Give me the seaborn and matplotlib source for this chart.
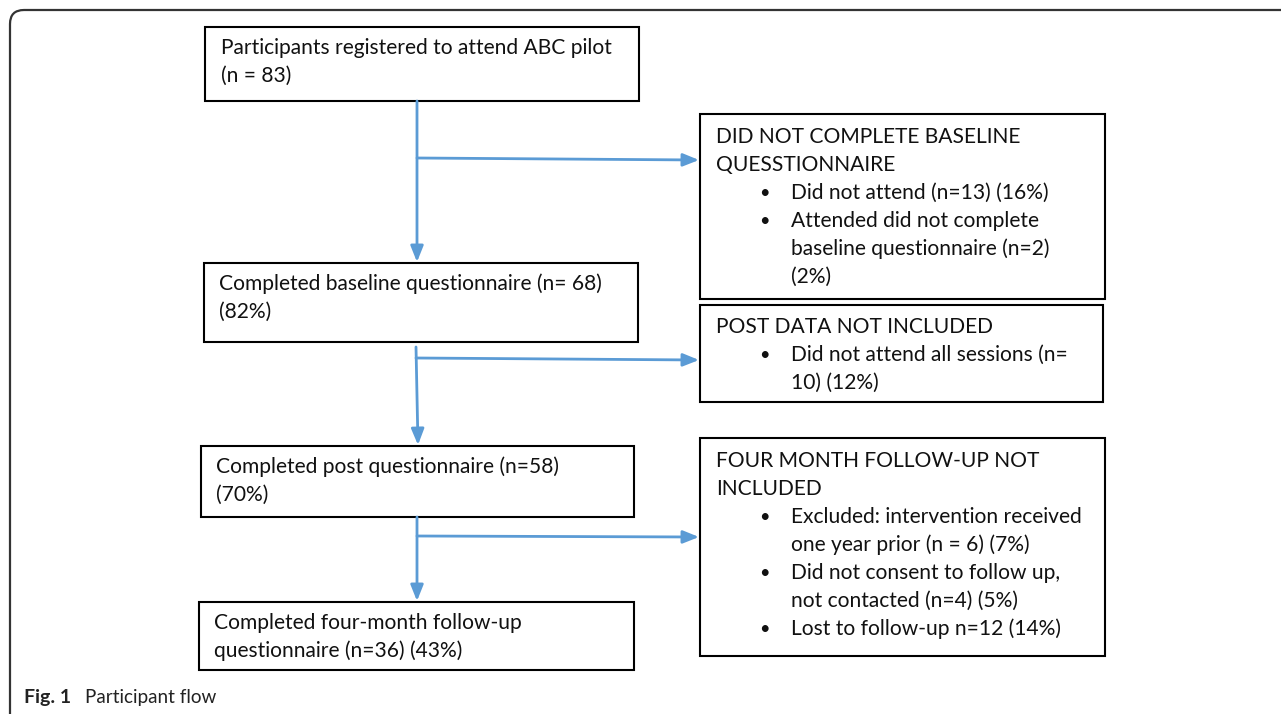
import matplotlib.pyplot as plt
import seaborn as sns
from matplotlib.patches import Rectangle
from matplotlib.path import Path
from matplotlib.patches import PathPatch

# -------------------------
# Flow content
# -------------------------
stage_titles = [
    "Participants registered to attend ABC pilot",
    "Completed baseline questionnaire (n= 68)",
    "Completed post questionnaire (n=58)",
    "Completed four-month follow-up",
]
stage_second_lines = ["(n = 83)", "(82%)", "(70%)", "questionnaire (n=36) (43%)"]

exclusion_headers = [
    ["DID NOT COMPLETE BASELINE", "QUESSTIONNAIRE"],
    ["POST DATA NOT INCLUDED"],
    ["FOUR MONTH FOLLOW-UP NOT", "INCLUDED"],
]
exclusion_bullets = [
    [["Did not attend (n=13) (16%)"],
     ["Attended did not complete", "baseline questionnaire (n=2)", "(2%)"]],
    [["Did not attend all sessions (n=", "10) (12%)"]],
    [["Excluded: intervention received", "one year prior (n = 6) (7%)"],
     ["Did not consent to follow up,", "not contacted (n=4) (5%)"],
     ["Lost to follow-up n=12 (14%)"]],
]
caption_bold = "Fig. 1"
caption_text = "Participant flow"

# -------------------------
# Layout (pixel coordinates, y downwards)
# -------------------------
stage_boxes = [(205, 27, 434, 74), (204, 263, 434, 79), (201, 446, 433, 71), (199, 602, 435, 68)]
stage_text_x = [221, 219, 216, 214]
excl_boxes = [(700, 114, 405, 185), (700, 305, 403, 97), (700, 438, 405, 218)]
excl_first_line = [137, 327, 461]
line_gap = 28
arrows_down = [(417, 101, 417, 262), (416, 347, 418, 445), (417, 517, 417, 601)]
arrows_side = [(417, 158, 699, 160), (416, 358, 699, 360), (417, 536, 699, 537)]

sns.set_theme(style="white")
plt.rcParams['font.family'] = ['Lato', 'DejaVu Sans']

fig = plt.figure(figsize=(12.81, 7.14), dpi=100)
ax = fig.add_axes([0, 0, 1, 1])
ax.set_xlim(0, 1281)
ax.set_ylim(714, 0)
ax.axis("off")

blue = "#5B9BD5"
fs = 15.1

# outer frame with rounded top-left corner
r = 14
verts = [(10, 714), (10, 10 + r), (10, 10), (10 + r, 10), (1281, 10)]
codes = [Path.MOVETO, Path.LINETO, Path.CURVE3, Path.CURVE3, Path.LINETO]
ax.add_patch(PathPatch(Path(verts, codes), fill=False, ec="#333333", lw=1.6))

# stage boxes
for (x, y, w, h), tx, t1, t2 in zip(stage_boxes, stage_text_x, stage_titles, stage_second_lines):
    ax.add_patch(Rectangle((x, y), w, h, fill=False, ec="black", lw=1.5))
    ax.text(tx, y + 21, t1, fontsize=fs, va="center", ha="left", color="#111111")
    ax.text(tx, y + 21 + line_gap, t2, fontsize=fs, va="center", ha="left", color="#111111")

# exclusion boxes
for (x, y, w, h), y0, head, bullets in zip(excl_boxes, excl_first_line, exclusion_headers, exclusion_bullets):
    ax.add_patch(Rectangle((x, y), w, h, fill=False, ec="black", lw=1.5))
    yy = y0
    for line in head:
        ax.text(716, yy, line, fontsize=fs, va="center", ha="left", color="#111111")
        yy += line_gap
    for item in bullets:
        ax.text(759, yy, "\u2022", fontsize=fs - 2, va="center", ha="left", color="#111111")
        for line in item:
            ax.text(791, yy, line, fontsize=fs, va="center", ha="left", color="#111111")
            yy += line_gap

# arrows
for x0, y0, x1, y1 in arrows_down + arrows_side:
    ax.annotate("", xy=(x1, y1), xytext=(x0, y0),
                arrowprops=dict(arrowstyle="-|>,head_length=0.8,head_width=0.32",
                                color=blue, lw=2, shrinkA=0, shrinkB=0))

# caption
ax.text(24, 697, caption_bold, fontsize=14, fontweight="bold", va="center", ha="left", color="#222222")
ax.text(85, 697, caption_text, fontsize=13.6, va="center", ha="left", color="#222222")

fig.savefig("out.png", dpi=100)
